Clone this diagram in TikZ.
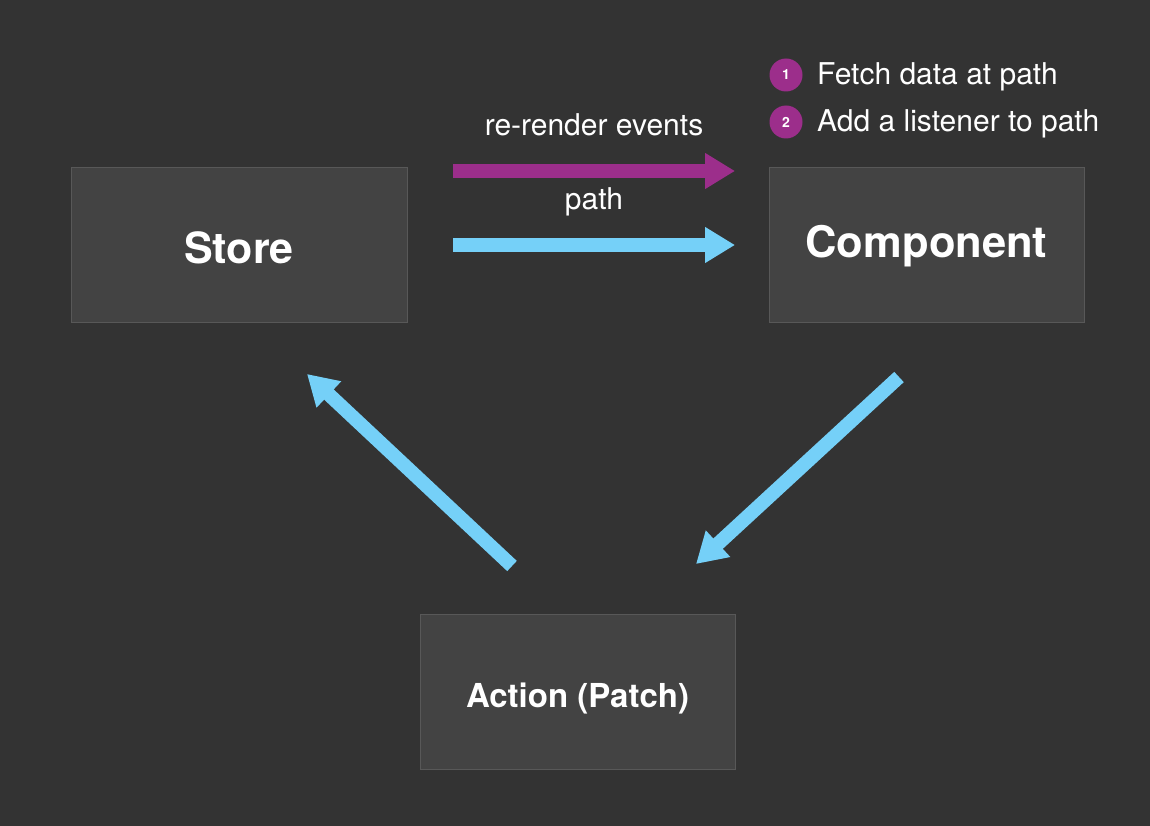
\documentclass[tikz,border=0pt]{standalone}
\usepackage{fontspec}
\setmainfont{TeX Gyre Heros}
\usetikzlibrary{arrows.meta}
\definecolor{bg}{HTML}{333333}
\definecolor{boxfill}{HTML}{434343}
\definecolor{boxline}{HTML}{585858}
\definecolor{mag}{HTML}{9C2E8B}
\definecolor{sky}{HTML}{75D0F8}
\newcommand{\dropby}[2]{\raisebox{-#1}[\height][\depth]{#2}}
\tikzset{
  box/.style={draw=boxline, line width=1pt, fill=boxfill, text=white, font=\bfseries, inner sep=0pt},
  bigarrow/.style={line width=14pt, -{Triangle[length=30pt,width=34pt]}},
  lbl/.style={text=white, font=\fontsize{30}{36}\selectfont, inner sep=0pt, anchor=base},
  badge/.style={circle, fill=mag, minimum size=33pt, inner sep=0pt, text=white, font=\bfseries\fontsize{14}{16}\selectfont},
}
\begin{document}
\begin{tikzpicture}[x=1pt,y=-1pt]
\fill[bg] (0,0) rectangle (1150,826);
\useasboundingbox (0,0) rectangle (1150,826);
\node[box, minimum width=336pt, minimum height=154pt, font=\bfseries\fontsize{43}{50}\selectfont] (store) at (239,245) {\dropby{3pt}{Store}};
\node[box, minimum width=315pt, minimum height=154pt, font=\bfseries\fontsize{43.5}{50}\selectfont] (comp) at (926.5,245) {\dropby{1pt}{Component}};
\node[box, minimum width=315pt, minimum height=155pt, font=\bfseries\fontsize{33}{40}\selectfont] (action) at (577.5,691.5) {\dropby{7pt}{Action (Patch)}};
\coordinate (m1) at (453,171);
\coordinate (m2) at (735,171);
\coordinate (b1) at (453,245);
\coordinate (b2) at (735,245);
\coordinate (d1) at (899,377);
\coordinate (d2) at (696,564);
\coordinate (u1) at (512,566);
\coordinate (u2) at (307,374);
\draw[bigarrow, mag] (m1) -- (m2);
\draw[bigarrow, sky] (b1) -- (b2);
\draw[bigarrow, sky] (d1) -- (d2);
\draw[bigarrow, sky] (u1) -- (u2);
\node[lbl] (t1) at (594,136) {re-render events};
\node[lbl] (t2) at (594,210) {path};
\node[badge] (c1) at (786,75) {1};
\node[badge] (c2) at (786,122) {2};
\node[lbl, anchor=base west] (f1) at (817,85) {Fetch data at path};
\node[lbl, anchor=base west] (f2) at (817,132) {Add a listener to path};
\end{tikzpicture}
\end{document}
